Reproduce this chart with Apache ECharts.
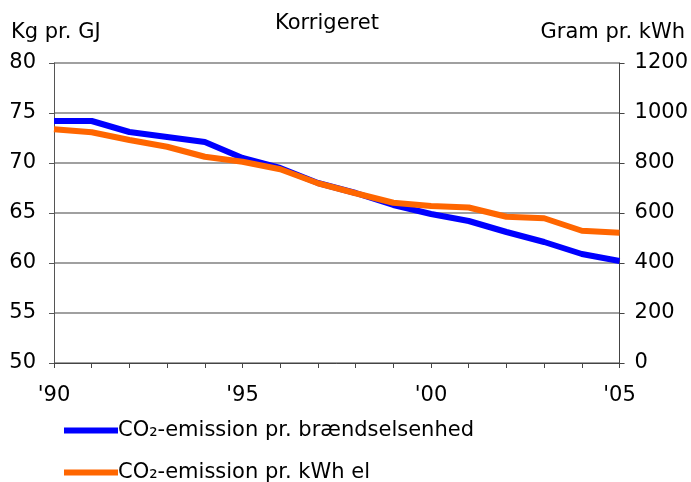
<!DOCTYPE html>
<html>
<head>
<meta charset="utf-8">
<script src="https://cdn.jsdelivr.net/npm/echarts@6/dist/echarts.min.js"></script>
<style>
  html, body { margin: 0; padding: 0; background: #fff; }
  #chart { width: 691px; height: 482px; }
</style>
</head>
<body>
<div id="chart"></div>
<script>
// Years on the x axis and the short labels shown every fifth year
const years = [1990, 1991, 1992, 1993, 1994, 1995, 1996, 1997, 1998, 1999, 2000, 2001, 2002, 2003, 2004, 2005];
const yearTickLabels = { 1990: "'90", 1995: "'95", 2000: "'00", 2005: "'05" };

// CO2 per unit of fuel, kg per GJ (left axis)
const fuelEmission = [74.2, 74.2, 73.1, 72.6, 72.1, 70.5, 69.5, 68.0, 67.0, 65.8, 64.9, 64.2, 63.1, 62.1, 60.9, 60.2];
// CO2 per kWh of electricity, gram per kWh (right axis)
const powerEmission = [935, 923, 892, 865, 825, 805, 775, 719, 679, 641, 628, 622, 585, 579, 529, 521];

const seriesNames = ['CO\u2082-emission pr. brændselsenhed', 'CO\u2082-emission pr. kWh el'];

const FONT = 'DejaVu Sans';
const FS = 21;

const chart = echarts.init(document.getElementById('chart'), null, { renderer: 'canvas' });

const legendBase = {
  orient: 'vertical',
  left: 59,
  itemWidth: 54,
  itemHeight: 6,
  icon: 'rect',
  textStyle: { fontFamily: FONT, fontSize: FS, color: '#000', padding: [0, 0, 0, -5] }
};

chart.setOption({
  animation: false,
  backgroundColor: '#ffffff',
  textStyle: { fontFamily: FONT, color: '#000' },
  title: [
    { text: 'Korrigeret', left: 270, top: 8, textStyle: { fontFamily: FONT, fontSize: FS, fontWeight: 'normal', color: '#000' } },
    { text: 'Kg pr. GJ', left: 6, top: 17, textStyle: { fontFamily: FONT, fontSize: FS, fontWeight: 'normal', color: '#000' } },
    { text: 'Gram pr. kWh', right: 1, top: 17, textStyle: { fontFamily: FONT, fontSize: FS, fontWeight: 'normal', color: '#000' } }
  ],
  legend: [
    Object.assign({}, legendBase, { top: 415, data: [seriesNames[0]] }),
    Object.assign({}, legendBase, { top: 457, data: [seriesNames[1]] })
  ],
  grid: { left: 54, right: 70, top: 63, bottom: 119 },
  xAxis: {
    type: 'category',
    data: years.map(String),
    boundaryGap: false,
    axisLine: { lineStyle: { color: '#444', width: 1 } },
    axisTick: { show: true, length: 5, alignWithLabel: true, lineStyle: { color: '#444' } },
    axisLabel: {
      interval: 0,
      margin: 22,
      fontFamily: FONT, fontSize: FS, color: '#000',
      formatter: v => yearTickLabels[v] || ''
    },
    splitLine: { show: false }
  },
  yAxis: [
    {
      type: 'value', min: 50, max: 80, interval: 5, position: 'left',
      axisLine: { show: true, lineStyle: { color: '#555', width: 1 } },
      axisTick: { show: true, length: 5, lineStyle: { color: '#555' } },
      axisLabel: { margin: 18, fontFamily: FONT, fontSize: FS, color: '#000' },
      splitLine: { show: true, lineStyle: { color: '#808080', width: 1.5 } }
    },
    {
      type: 'value', min: 0, max: 1200, interval: 200, position: 'right',
      axisLine: { show: true, lineStyle: { color: '#444', width: 1 } },
      axisTick: { show: true, length: 5, lineStyle: { color: '#444' } },
      axisLabel: { margin: 15, fontFamily: FONT, fontSize: FS, color: '#000', formatter: v => String(v) },
      splitLine: { show: false }
    }
  ],
  series: [
    {
      name: seriesNames[0], type: 'line', yAxisIndex: 0, data: fuelEmission,
      symbol: 'none', lineStyle: { color: '#0000ff', width: 6 }, itemStyle: { color: '#0000ff' }
    },
    {
      name: seriesNames[1], type: 'line', yAxisIndex: 1, data: powerEmission,
      symbol: 'none', lineStyle: { color: '#ff6600', width: 6 }, itemStyle: { color: '#ff6600' }
    }
  ]
});
</script>
</body>
</html>
